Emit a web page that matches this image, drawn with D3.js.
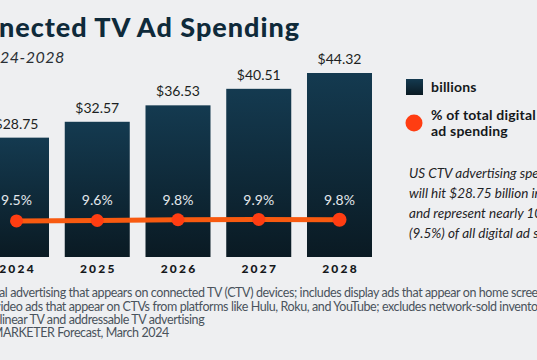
<!DOCTYPE html>
<html><head><meta charset="utf-8">
<script src="https://cdn.jsdelivr.net/npm/d3@7/dist/d3.min.js"></script>
<style>
html,body{margin:0;padding:0;background:#eeeff1;overflow:hidden}
svg{display:block}
</style></head>
<body>
<script>
const years = ["2024","2025","2026","2027","2028"];
const spending = [28.75, 32.57, 36.53, 40.51, 44.32];
const share = [9.5, 9.6, 9.8, 9.9, 9.8];
const titleText = "US Connected TV Ad Spending";
const subtitleText = "2024-2028";
const legendItems = ["billions", "% of total digital", "ad spending"];
const noteLines = [
  "US CTV advertising spending",
  "will hit $28.75 billion in 2024",
  "and represent nearly 10%",
  "(9.5%) of all digital ad spending."
];
const footLines = [
  "Note: digital advertising that appears on connected TV (CTV) devices; includes display ads that appear on home screens",
  "and video ads that appear on CTVs from platforms like Hulu, Roku, and YouTube; excludes network-sold inventory",
  "from linear TV and addressable TV advertising",
  "Source: EMARKETER Forecast, March 2024"
];

const W = 537, H = 360;
const svg = d3.select("body").append("svg").attr("width", W).attr("height", H);
svg.append("rect").attr("width", W).attr("height", H).attr("fill", "#eeeff1");

const defs = svg.append("defs");
const grad = defs.append("linearGradient").attr("id","barGrad").attr("x1",0).attr("y1",0).attr("x2",0).attr("y2",1);
grad.append("stop").attr("offset","0%").attr("stop-color","#143a50");
grad.append("stop").attr("offset","100%").attr("stop-color","#0a1a23");

function placeFrom(sel, from, xVis){
  const node = sel.node();
  let off = 0;
  if (from > 0) off = node.getSubStringLength(0, from);
  sel.attr("x", xVis - off);
}
function fitSpacing(sel, a, b, target){
  const node = sel.node();
  const w = node.getSubStringLength(a, b - a);
  sel.attr("letter-spacing", (target - w) / (b - a));
}

// Title
const title = svg.append("text").text(titleText)
  .attr("y", 37).attr("font-family","Lato").attr("font-weight",900)
  .attr("font-size", 27).attr("fill","#0f2a3a");
const tA = titleText.indexOf("nected");
fitSpacing(title, tA, titleText.length, 301);
placeFrom(title, tA, -1);

const sub = svg.append("text").text(subtitleText)
  .attr("y", 63).attr("font-family","Lato").attr("font-style","italic")
  .attr("font-size", 16).attr("fill","#2a2f35").attr("letter-spacing", 0.5);
placeFrom(sub, 2, 0);

const x = d3.scaleBand().domain(years).range([-16, 372]).paddingInner(0.195).paddingOuter(0);
const y = d3.scaleLinear().domain([0, 44.32]).range([257, 73]);
const yp = d3.scaleLinear().domain([0, 10]).range([257, 219]);

const g = svg.append("g");
g.selectAll("rect.bar").data(years).join("rect").attr("class","bar")
  .attr("x", d => x(d)).attr("width", x.bandwidth())
  .attr("y", (d,i) => y(spending[i])).attr("height", (d,i) => y(0) - y(spending[i]))
  .attr("fill","url(#barGrad)");

g.selectAll("text.val").data(years).join("text").attr("class","val")
  .attr("x", d => x(d) + x.bandwidth()/2).attr("y", (d,i) => y(spending[i]) - 9)
  .attr("text-anchor","middle").attr("font-family","Lato").attr("font-size",14)
  .attr("fill","#1c1f22").text((d,i) => "$" + spending[i].toFixed(2));

g.selectAll("text.pct").data(years).join("text").attr("class","pct")
  .attr("x", d => x(d) + x.bandwidth()/2).attr("y", 205)
  .attr("text-anchor","middle").attr("font-family","Lato").attr("font-size",14)
  .attr("fill","#e4e8ec").text((d,i) => share[i].toFixed(1) + "%");

const line = d3.line().x((d,i) => x(years[i]) + x.bandwidth()/2).y(d => yp(d));
g.append("path").datum(share).attr("d", line).attr("fill","none")
  .attr("stroke","#f85a10").attr("stroke-width",5);
g.selectAll("circle.dot").data(share).join("circle").attr("class","dot")
  .attr("cx", (d,i) => x(years[i]) + x.bandwidth()/2).attr("cy", d => yp(d))
  .attr("r", (d,i) => i === share.length-1 ? 7 : 6.5).attr("fill","#ff3d12");

const xAxis = d3.axisBottom(x).tickSize(0).tickPadding(0);
const ax = svg.append("g").attr("transform","translate(0,264)").call(xAxis);
ax.select(".domain").remove();
ax.selectAll("text").attr("font-family","Lato").attr("font-weight",900).attr("font-size",12)
  .attr("letter-spacing", 2.2).attr("fill","#15181b").attr("dy","0.71em")
  .attr("dx", 1);

// Legend
svg.append("rect").attr("x",406).attr("y",79).attr("width",17).attr("height",16).attr("fill","url(#barGrad)");
const legFont = {"font-family":"Lato","font-weight":700,"font-size":14,"fill":"#15181b","letter-spacing":0.2};
[[legendItems[0],92],[legendItems[1],120],[legendItems[2],136]].forEach(([t,yy]) => {
  const s = svg.append("text").attr("x",431).attr("y",yy).text(t);
  Object.entries(legFont).forEach(([k,v]) => s.attr(k,v));
});
svg.append("circle").attr("cx",414).attr("cy",123).attr("r",8.5).attr("fill","#ff3d12");

// Note
svg.append("g").selectAll("text").data(noteLines).join("text")
  .attr("x",409).attr("y",(d,i) => 178 + i*20).text(d => d)
  .attr("font-family","Lato").attr("font-style","italic").attr("font-size",13.5).attr("fill","#1f2326");

// Footer
const footBaselines = [297, 311, 324, 337];
const fA = footLines[0].indexOf("al advertising");
const fB = footLines[0].indexOf("home scree") + "home scree".length;
const probe = svg.append("text").text(footLines[0]).attr("font-family","Lato").attr("font-size",12.5);
fitSpacing(probe, fA, fB, 539);
const footSpacing = +probe.attr("letter-spacing");
probe.remove();
const footStarts = [["al advertising", -1], ["deo ads", 3], ["inear TV", 2], ["ARKETER", 3]];
footLines.forEach((t,i) => {
  const s = svg.append("text").text(t).attr("y", footBaselines[i])
    .attr("font-family","Lato").attr("font-size",12.5).attr("letter-spacing", footSpacing)
    .attr("fill","#4a535c");
  placeFrom(s, t.indexOf(footStarts[i][0]), footStarts[i][1]);
});
</script>
</body></html>
